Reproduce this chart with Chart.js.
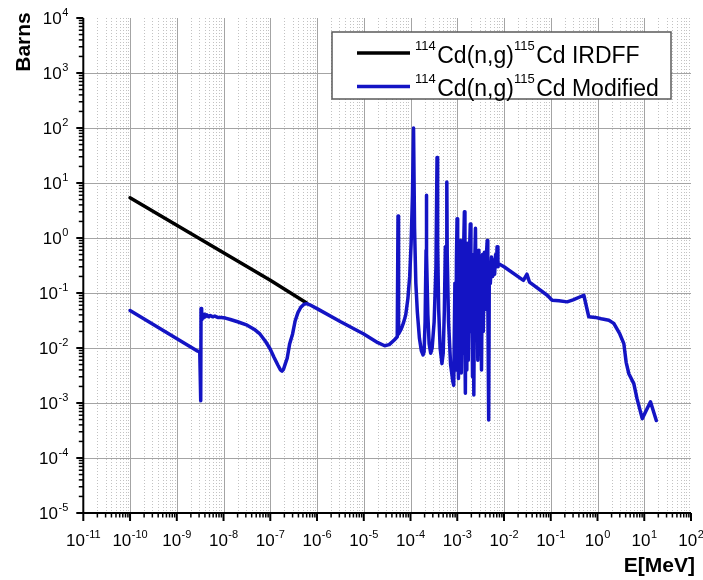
<!DOCTYPE html>
<html>
<head>
<meta charset="utf-8">
<script src="https://cdn.jsdelivr.net/npm/chart.js@4.4.1/dist/chart.umd.min.js"></script>
<style>
  html, body { margin: 0; padding: 0; background: #ffffff; }
  canvas { display: block; }
</style>
</head>
<body>
<canvas id="xs" width="703" height="580"></canvas>
<script>
// 114Cd(n,g)115Cd capture cross section, IRDFF evaluation (1/v region)
const irdffE  = [1e-10, 1e-9, 1e-8, 1e-7, 6e-7];
const irdffXS = [5.4, 1.71, 0.54, 0.171, 0.066];

// Modified evaluation: energy in MeV, cross section in barns
const modE = [
  // thermal tail and low-energy structure
  1.0e-10, 2.75e-9, 3.1e-9, 3.25e-9, 3.3e-9, 3.4e-9, 3.5e-9, 3.7e-9, 3.9e-9, 4.1e-9,
  4.4e-9, 4.8e-9, 5.2e-9, 5.8e-9, 6.5e-9, 7.5e-9, 9.0e-9, 1.1e-8, 1.4e-8, 2.0e-8,
  3.2e-8, 4.5e-8, 6.0e-8, 8.0e-8, 1.0e-7, 1.2e-7, 1.45e-7, 1.65e-7, 1.78e-7, 1.92e-7,
  2.1e-7, 2.3e-7, 2.6e-7, 3.0e-7, 3.4e-7, 3.9e-7, 4.5e-7, 5.2e-7, 6.0e-7, 7.0e-7,
  1.0e-6, 3.2e-6, 1.0e-5, 2.0e-5, 2.8e-5, 3.5e-5, 4.5e-5, 5.2e-5, 5.4e-5, 5.55e-5,
  // resolved resonances
  6.3e-5, 7.0e-5, 7.9e-5, 8.8e-5, 9.6e-5, 1.03e-4, 1.1e-4, 1.16e-4, 1.22e-4, 1.3e-4,
  1.4e-4, 1.55e-4, 1.7e-4, 1.85e-4, 1.95e-4, 2.05e-4, 2.15e-4, 2.18e-4, 2.22e-4, 2.35e-4,
  2.5e-4, 2.7e-4, 2.9e-4, 3.2e-4, 3.5e-4, 3.69e-4, 3.8e-4, 4.0e-4, 4.3e-4, 4.7e-4,
  5.0e-4, 5.3e-4, 5.56e-4, 5.75e-4, 5.95e-4, 6.0e-4, 6.1e-4, 6.5e-4, 7.2e-4, 8.0e-4,
  8.4e-4, 8.9e-4, 9.3e-4, 9.6e-4, 9.9e-4, 1.02e-3, 1.06e-3, 1.1e-3, 1.14e-3, 1.18e-3,
  1.22e-3, 1.27e-3, 1.32e-3, 1.37e-3, 1.42e-3, 1.46e-3, 1.49e-3, 1.54e-3, 1.6e-3, 1.66e-3,
  1.72e-3, 1.8e-3, 1.9e-3, 1.96e-3, 2.04e-3, 2.12e-3, 2.2e-3, 2.26e-3, 2.35e-3, 2.45e-3,
  2.55e-3, 2.65e-3, 2.75e-3, 2.9e-3, 3.0e-3, 3.15e-3, 3.3e-3, 3.45e-3, 3.6e-3, 3.8e-3,
  3.95e-3, 4.15e-3, 4.37e-3, 4.5e-3, 4.7e-3, 4.85e-3, 5.1e-3, 5.4e-3, 5.7e-3, 6.0e-3,
  6.3e-3, 6.6e-3, 6.9e-3, 7.1e-3, 7.4e-3, 7.7e-3,
  // unresolved and fast region
  1.0e-2, 2.6e-2, 3.1e-2, 3.5e-2, 8.4e-2, 0.107, 0.15, 0.224, 0.3, 0.51,
  0.65, 0.9, 1.2, 1.75, 2.23, 3.0, 3.66, 4.1, 4.68, 5.98,
  7.0, 9.06, 13.6, 18.1
];
const modXS = [
  0.048, 0.0088, 0.0086, 0.0011, 0.052, 0.032, 0.038, 0.035, 0.041, 0.037,
  0.040, 0.037, 0.039, 0.037, 0.038, 0.036, 0.036, 0.035, 0.033, 0.030,
  0.026, 0.022, 0.018, 0.013, 0.0095, 0.0068, 0.0049, 0.0040, 0.0038, 0.0041,
  0.0052, 0.0065, 0.012, 0.018, 0.031, 0.044, 0.055, 0.062, 0.064, 0.061,
  0.052, 0.030, 0.018, 0.0125, 0.011, 0.0115, 0.014, 0.016, 2.5, 0.018,

  0.022, 0.028, 0.04, 0.08, 0.2, 0.8, 6, 100, 1.5, 0.15,
  0.045, 0.015, 0.009, 0.0075, 0.0085, 0.03, 0.6, 6.0, 0.5, 0.04,
  0.012, 0.008, 0.01, 0.03, 0.3, 29, 0.8, 0.05, 0.01, 0.0052,
  0.008, 0.05, 0.69, 0.15, 1.0, 10.4, 0.5, 0.03, 0.005, 0.0025,
  0.0021, 0.15, 0.004, 0.4, 2.25, 0.02, 0.0028, 0.3, 0.006, 0.9,
  0.0035, 0.5, 0.008, 0.7, 3.0, 0.01, 0.0015, 0.25, 0.004, 0.8,
  0.006, 0.35, 1.8, 0.02, 0.2, 0.003, 0.5, 0.0014, 0.3, 1.5,
  0.03, 0.4, 0.006, 0.6, 0.01, 0.45, 0.004, 0.5, 0.02, 0.55,
  0.05, 0.4, 0.9, 0.1, 0.00049, 0.3, 0.15, 0.45, 0.2, 0.4,
  0.22, 0.5, 0.3, 0.69, 0.3, 0.34,

  0.30, 0.17, 0.22, 0.158, 0.091, 0.074, 0.072, 0.069, 0.075, 0.091,
  0.037, 0.036, 0.034, 0.032, 0.028, 0.018, 0.012, 0.0055, 0.0034, 0.00225,
  0.0012, 0.00052, 0.00105, 0.00048
];

// decade exponents for the axes
const xExponents = [-11, -10, -9, -8, -7, -6, -5, -4, -3, -2, -1, 0, 1, 2];
const yExponents = [-5, -4, -3, -2, -1, 0, 1, 2, 3, 4];

// legend labels: [text, superscript?]
const irdffName = [['114', true], ['Cd(n,g)', false], ['115', true], ['Cd IRDFF', false]];
const modName   = [['114', true], ['Cd(n,g)', false], ['115', true], ['Cd Modified', false]];
const seriesColors = ['#000000', '#1414c4'];

const xTitle = 'E[MeV]';
const yTitle = 'Barns';

const FONT = '"Liberation Sans", Arial, Helvetica, sans-serif';

function toPoints(es, vs) { return es.map((e, i) => ({ x: e, y: vs[i] })); }
function plainName(parts) { return parts.map(p => p[0]).join(''); }

function powerLabel(ctx, x, baseline, exp, align) {
  ctx.font = '17px ' + FONT;
  const wb = ctx.measureText('10').width;
  ctx.font = '11px ' + FONT;
  const es = String(exp);
  const we = ctx.measureText(es).width;
  const total = wb + 0.5 + we;
  const x0 = align === 'center' ? x - total / 2 : x - total;
  ctx.textAlign = 'left';
  ctx.textBaseline = 'alphabetic';
  ctx.font = '17px ' + FONT;
  ctx.fillText('10', x0, baseline);
  ctx.font = '11px ' + FONT;
  ctx.fillText(es, x0 + wb + 0.5, baseline - 8);
}

function richText(ctx, parts, x, baseline) {
  let cx = x;
  for (const [txt, sup] of parts) {
    ctx.font = (sup ? '13px ' : '23px ') + FONT;
    const yy = sup ? baseline - 13 : baseline;
    ctx.fillText(txt, cx, yy);
    cx += ctx.measureText(txt).width + (sup ? 1.5 : 0);
  }
}

const logAxesPlugin = {
  id: 'logAxes',
  beforeDatasetsDraw(chart) {
    const { ctx, chartArea: a, scales: { x, y } } = chart;
    ctx.save();
    ctx.lineWidth = 1;
    // minor vertical grid (dotted)
    ctx.strokeStyle = '#c2c2c2';
    ctx.setLineDash([1, 2]);
    for (let i = 0; i < xExponents.length - 1; i++) {
      for (let k = 2; k <= 9; k++) {
        const px = Math.round(x.getPixelForValue(k * Math.pow(10, xExponents[i]))) + 0.5;
        ctx.beginPath(); ctx.moveTo(px, a.top); ctx.lineTo(px, a.bottom); ctx.stroke();
      }
    }
    ctx.setLineDash([]);
    // decade grid (solid)
    ctx.strokeStyle = '#a4a4a4';
    for (let i = 1; i < xExponents.length - 1; i++) {
      const px = Math.round(x.getPixelForValue(Math.pow(10, xExponents[i]))) + 0.5;
      ctx.beginPath(); ctx.moveTo(px, a.top); ctx.lineTo(px, a.bottom); ctx.stroke();
    }
    for (let i = 1; i < yExponents.length - 1; i++) {
      const py = Math.round(y.getPixelForValue(Math.pow(10, yExponents[i]))) + 0.5;
      ctx.beginPath(); ctx.moveTo(a.left, py); ctx.lineTo(a.right, py); ctx.stroke();
    }
    ctx.restore();
  },
  afterDatasetsDraw(chart) {
    const { ctx, chartArea: a, scales: { x, y } } = chart;
    ctx.save();
    ctx.strokeStyle = '#000';
    ctx.fillStyle = '#000';
    // axis lines
    ctx.lineWidth = 2;
    ctx.beginPath();
    ctx.moveTo(a.left, a.top); ctx.lineTo(a.left, a.bottom); ctx.lineTo(a.right, a.bottom);
    ctx.stroke();
    // x ticks
    for (let i = 0; i < xExponents.length; i++) {
      const v = Math.pow(10, xExponents[i]);
      const px = x.getPixelForValue(v);
      ctx.lineWidth = 2;
      ctx.beginPath(); ctx.moveTo(px, a.bottom); ctx.lineTo(px, a.bottom + 8); ctx.stroke();
      if (i < xExponents.length - 1) {
        ctx.lineWidth = 1.5;
        for (let k = 2; k <= 9; k++) {
          const mx = x.getPixelForValue(k * v);
          ctx.beginPath(); ctx.moveTo(mx, a.bottom); ctx.lineTo(mx, a.bottom + 4.5); ctx.stroke();
        }
      }
      powerLabel(ctx, px, a.bottom + 33, xExponents[i], 'center');
    }
    // y ticks
    for (let i = 0; i < yExponents.length; i++) {
      const v = Math.pow(10, yExponents[i]);
      const py = y.getPixelForValue(v);
      ctx.lineWidth = 2;
      ctx.beginPath(); ctx.moveTo(a.left - 7, py); ctx.lineTo(a.left, py); ctx.stroke();
      if (i < yExponents.length - 1) {
        ctx.lineWidth = 1.5;
        for (let k = 2; k <= 9; k++) {
          const my = y.getPixelForValue(k * v);
          ctx.beginPath(); ctx.moveTo(a.left - 4.5, my); ctx.lineTo(a.left, my); ctx.stroke();
        }
      }
      powerLabel(ctx, a.left - 15, py + 6, yExponents[i], 'right');
    }
    // axis titles
    ctx.font = 'bold 21px ' + FONT;
    ctx.textAlign = 'right';
    ctx.textBaseline = 'alphabetic';
    ctx.fillText(xTitle, 695, 572);
    ctx.save();
    ctx.translate(30, 42);
    ctx.rotate(-Math.PI / 2);
    ctx.textAlign = 'center';
    ctx.fillText(yTitle, 0, 0);
    ctx.restore();
    // legend
    const lx = 332, ly = 32, lw = 339, lh = 67;
    ctx.fillStyle = '#ffffff';
    ctx.fillRect(lx, ly, lw, lh);
    ctx.strokeStyle = '#5a5a5a';
    ctx.lineWidth = 1.5;
    ctx.strokeRect(lx, ly, lw, lh);
    const names = [irdffName, modName];
    const rows = [62.5, 96];
    chart.data.datasets.forEach((ds, i) => {
      ctx.strokeStyle = ds.borderColor;
      ctx.lineWidth = 3.5;
      ctx.beginPath(); ctx.moveTo(357, rows[i] - 9.5); ctx.lineTo(410, rows[i] - 9.5); ctx.stroke();
      ctx.fillStyle = '#000';
      ctx.textAlign = 'left';
      richText(ctx, names[i], 415, rows[i]);
    });
    ctx.restore();
  }
};

new Chart(document.getElementById('xs'), {
  type: 'scatter',
  data: {
    datasets: [
      {
        label: plainName(irdffName),
        data: toPoints(irdffE, irdffXS),
        showLine: true,
        borderColor: seriesColors[0],
        borderWidth: 3.5,
        pointRadius: 0,
        order: 1
      },
      {
        label: plainName(modName),
        data: toPoints(modE, modXS),
        showLine: true,
        borderColor: seriesColors[1],
        borderWidth: 3.5,
        pointRadius: 0,
        order: 0
      }
    ]
  },
  options: {
    responsive: false,
    animation: false,
    devicePixelRatio: 1,
    layout: { padding: { left: 0, top: 18, right: 12, bottom: 0 } },
    elements: { line: { tension: 0, borderJoinStyle: 'round', borderCapStyle: 'round' } },
    plugins: { legend: { display: false }, tooltip: { enabled: false } },
    scales: {
      x: {
        type: 'logarithmic', min: 1e-11, max: 1e2,
        grid: { display: false }, border: { display: false }, ticks: { display: false },
        afterFit(s) { s.height = 67; }
      },
      y: {
        type: 'logarithmic', min: 1e-5, max: 1e4,
        grid: { display: false }, border: { display: false }, ticks: { display: false },
        afterFit(s) { s.width = 83.3; }
      }
    }
  },
  plugins: [logAxesPlugin]
});
</script>
</body>
</html>
